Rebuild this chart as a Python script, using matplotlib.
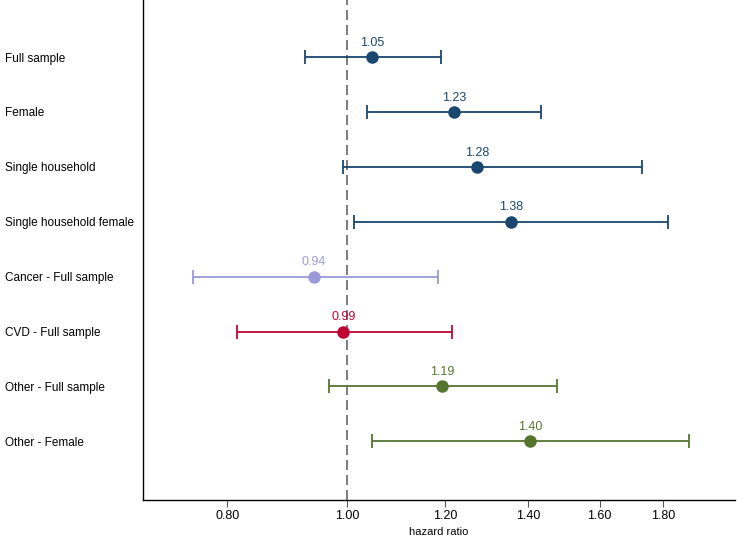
import matplotlib.pyplot as plt
import numpy as np

plt.rcParams['font.family'] = ['Liberation Sans', 'DejaVu Sans']

# hazard ratios with 95% CI
groups = ['Full sample', 'Female', 'Single household', 'Single household female',
          'Cancer - Full sample', 'CVD - Full sample', 'Other - Full sample', 'Other - Female']
hr = [1.05, 1.23, 1.28, 1.38, 0.94, 0.99, 1.19, 1.40]
hr_pos = [1.048, 1.22, 1.273, 1.356, 0.94, 0.993, 1.193, 1.405]
ci_low = [0.925, 1.038, 0.993, 1.013, 0.751, 0.814, 0.967, 1.048]
ci_high = [1.191, 1.434, 1.73, 1.816, 1.184, 1.215, 1.477, 1.889]
colors = ['#1a476f', '#1a476f', '#1a476f', '#1a476f',
          '#9a9ad8', '#c10534', '#55752f', '#55752f']

xticks = [0.8, 1.0, 1.2, 1.4, 1.6, 1.8]

fig = plt.figure(figsize=(7.37, 5.4), dpi=100)
ax = fig.add_axes([0.194, 0.074, 0.803, 0.926])

y = np.arange(len(groups))
for i in range(len(groups)):
    ax.errorbar(hr_pos[i], y[i], xerr=[[hr_pos[i] - ci_low[i]], [ci_high[i] - hr_pos[i]]],
                fmt='o', color=colors[i], markersize=8, elinewidth=1.3,
                capsize=5, capthick=1.3, zorder=3)
    ax.annotate(f'{hr[i]:.2f}', xy=(hr_pos[i], y[i]), xytext=(0, 6),
                textcoords='offset points', ha='center', va='bottom',
                fontsize=9, color=colors[i])

ax.axvline(1.0, color='#666666', linestyle=(0, (6, 3)), linewidth=1.2, zorder=1)

ax.set_xscale('log')
ax.set_xlim(0.684, 2.057)
ax.set_ylim(8.07, -1.04)
ax.set_xticks(xticks)
ax.set_xticklabels([f'{v:.2f}' for v in xticks])
ax.xaxis.set_minor_locator(plt.NullLocator())
ax.tick_params(axis='x', length=5, width=0.8, color='#555555', labelsize=9, pad=2.5)

ax.set_yticks(y)
ax.set_yticklabels(groups)
ax.tick_params(axis='y', length=0, labelsize=8.5, pad=99)
for lab in ax.get_yticklabels():
    lab.set_horizontalalignment('left')

ax.set_xlabel('hazard ratio', fontsize=8, labelpad=3)
ax.spines['top'].set_visible(False)
ax.spines['right'].set_visible(False)
for s in ['left', 'bottom']:
    ax.spines[s].set_linewidth(1.0)

plt.savefig('out.png', dpi=100)
